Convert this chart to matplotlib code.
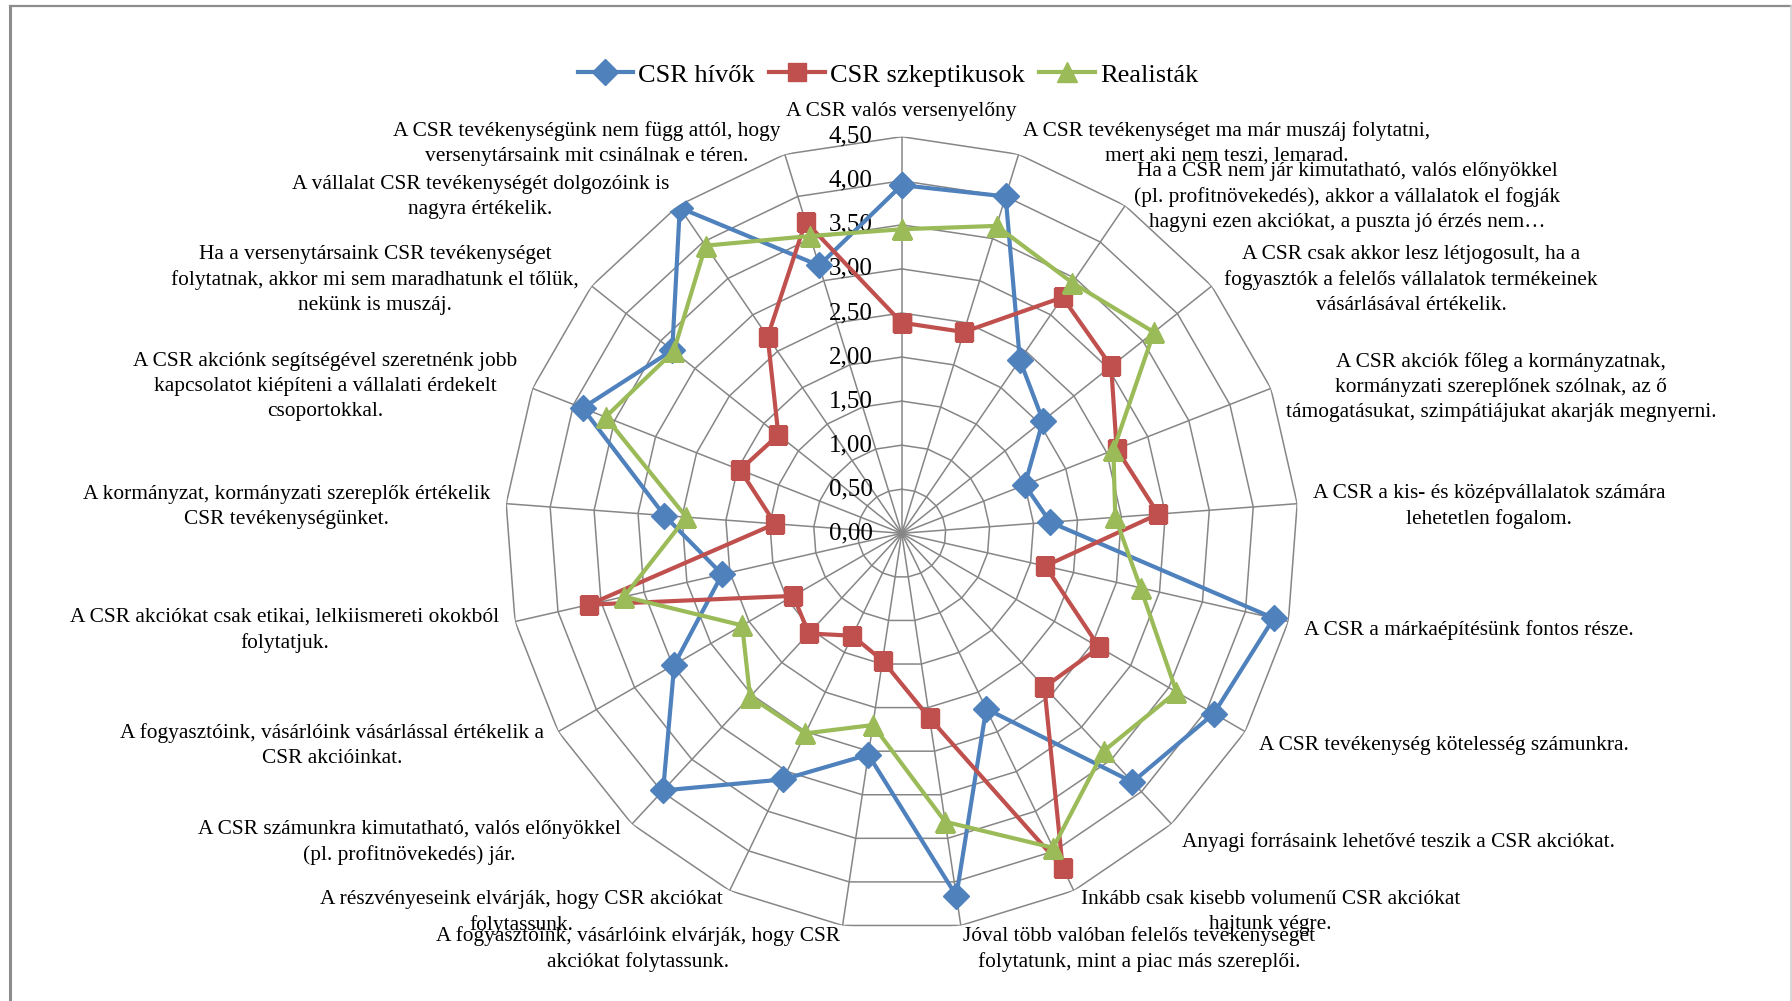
import numpy as np
import matplotlib
matplotlib.use('Agg')
import matplotlib.pyplot as plt
from matplotlib.lines import Line2D

plt.rcParams['font.family'] = ['Liberation Serif', 'DejaVu Serif']

# kategóriák (óramutató járásával, felülről)
categories = [
    'A CSR valós versenyelőny',
    'A CSR tevékenységet ma már muszáj folytatni,\nmert aki nem teszi, lemarad.',
    'Ha a CSR nem jár kimutatható, valós előnyökkel\n(pl. profitnövekedés), akkor a vállalatok el fogják\nhagyni ezen akciókat, a puszta jó érzés nem…',
    'A CSR csak akkor lesz létjogosult, ha a\nfogyasztók a felelős vállalatok termékeinek\nvásárlásával értékelik.',
    'A CSR akciók főleg a kormányzatnak,\nkormányzati szereplőnek szólnak, az ő\ntámogatásukat, szimpátiájukat akarják megnyerni.',
    'A CSR a kis- és középvállalatok számára\nlehetetlen fogalom.',
    'A CSR a márkaépítésünk fontos része.',
    'A CSR tevékenység kötelesség számunkra.',
    'Anyagi forrásaink lehetővé teszik a CSR akciókat.',
    'Inkább csak kisebb volumenű CSR akciókat\nhajtunk végre.',
    'Jóval több valóban felelős tevékenységet\nfolytatunk, mint a piac más szereplői.',
    'A fogyasztóink, vásárlóink elvárják, hogy CSR\nakciókat folytassunk.',
    'A részvényeseink elvárják, hogy CSR akciókat\nfolytassunk.',
    'A CSR számunkra kimutatható, valós előnyökkel\n(pl. profitnövekedés) jár.',
    'A fogyasztóink, vásárlóink vásárlással értékelik a\nCSR akcióinkat.',
    'A CSR akciókat csak etikai, lelkiismereti okokból\nfolytatjuk.',
    'A kormányzat, kormányzati szereplők értékelik\nCSR tevékenységünket.',
    'A CSR akciónk segítségével szeretnénk jobb\nkapcsolatot kiépíteni a vállalati érdekelt\ncsoportokkal.',
    'Ha a versenytársaink CSR tevékenységet\nfolytatnak, akkor mi sem maradhatunk el tőlük,\nnekünk is muszáj.',
    'A vállalat CSR tevékenységét dolgozóink is\nnagyra értékelik.',
    'A CSR tevékenységünk nem függ attól, hogy\nversenytársaink mit csinálnak e téren.',
]

hivok = [3.95, 4.00, 2.38, 2.05, 1.50, 1.69, 4.33, 4.09, 3.85, 2.21, 4.16,
         2.54, 3.10, 3.98, 2.98, 2.09, 2.70, 3.89, 3.33, 4.47, 3.18]
szkeptikusok = [2.39, 2.39, 3.24, 3.04, 2.62, 2.92, 1.67, 2.59, 2.38, 4.21, 2.12,
                1.46, 1.29, 1.55, 1.42, 3.64, 1.44, 1.97, 1.79, 2.70, 3.70]
realistak = [3.45, 3.65, 3.44, 3.66, 2.58, 2.43, 2.78, 3.60, 3.37, 3.96, 3.31,
             2.20, 2.52, 2.53, 2.09, 3.23, 2.45, 3.61, 3.31, 3.95, 3.53]

series_names = ['CSR hívők', 'CSR szkeptikusok', 'Realisták']
levels = np.arange(0, 4.51, 0.5)

W, H = 1792, 1001
fig = plt.figure(figsize=(W / 100, H / 100), dpi=100)

# szürke keret (Excel diagramterület)
fig.add_artist(Line2D([10 / W, 10 / W], [0, 1 - 6 / H], color='#8c8c8c', lw=2.2))
fig.add_artist(Line2D([10 / W, 1], [1 - 6 / H, 1 - 6 / H], color='#8c8c8c', lw=1.6))
fig.add_artist(Line2D([1 - 1.5 / W, 1 - 1.5 / W], [0, 1 - 6 / H], color='#d0d0d0', lw=1.2))

cx, cy, R = 901.7, 533.3, 396.6
ax = fig.add_axes([(cx - R) / W, (H - cy - R) / H, 2 * R / W, 2 * R / H], projection='polar')
ax.set_theta_zero_location('N')
ax.set_theta_direction(-1)
ax.set_ylim(0, 4.5)
ax.grid(False)
ax.spines['polar'].set_visible(False)
ax.set_xticks([])
ax.set_yticks([])
ax.patch.set_alpha(0)

n = len(categories)
angles = np.arange(n) * 2 * np.pi / n
closed = np.append(angles, angles[0])

grid_c = '#868686'
for lev in levels[1:]:
    ax.plot(closed, [lev] * (n + 1), color=grid_c, lw=1.1, zorder=1)
for a in angles:
    ax.plot([a, a], [0, 4.5], color=grid_c, lw=1.1, zorder=1)

for lev in levels:
    ax.annotate(f'{lev:.2f}'.replace('.', ','), xy=(0, lev), xytext=(-21, 0),
                textcoords='offset points', ha='right', va='center',
                fontsize=18, zorder=2, annotation_clip=False)

colors = ['#4F81BD', '#C0504D', '#9BBB59']
markers = ['D', 's', '^']
sizes = [13, 13, 14]
for vals, name, c, m, s in zip([hivok, szkeptikusok, realistak], series_names, colors, markers, sizes):
    ax.plot(closed, np.append(vals, vals[0]), color=c, lw=3.0, marker=m, ms=s,
            mec=c, mfc=c, label=name, zorder=3)

# kategóriacímkék a külső gyűrűn kívül
d = 11.5
for a, lab in zip(angles, categories):
    sx, sy = np.sin(a), np.cos(a)
    if abs(sx) < 0.05:
        ha = 'center'
        va = 'bottom' if sy > 0 else 'top'
        dy = d * sy
    else:
        ha = 'left' if sx > 0 else 'right'
        va = 'center'
        dy = d * sy - 3 + 2.5 * min(sy, 0)
    ax.annotate(lab, xy=(a, 4.5), xytext=(d * sx, dy), textcoords='offset points',
                ha=ha, va=va, multialignment='center', fontsize=15.4, linespacing=1.42,
                annotation_clip=False)

fig.legend(loc='center', bbox_to_anchor=(0.4955, 1 - 75 / H), ncol=3, frameon=False,
           fontsize=19, handlelength=2.1, handletextpad=0.2, columnspacing=0.55)

fig.savefig('out.png', dpi=100)
